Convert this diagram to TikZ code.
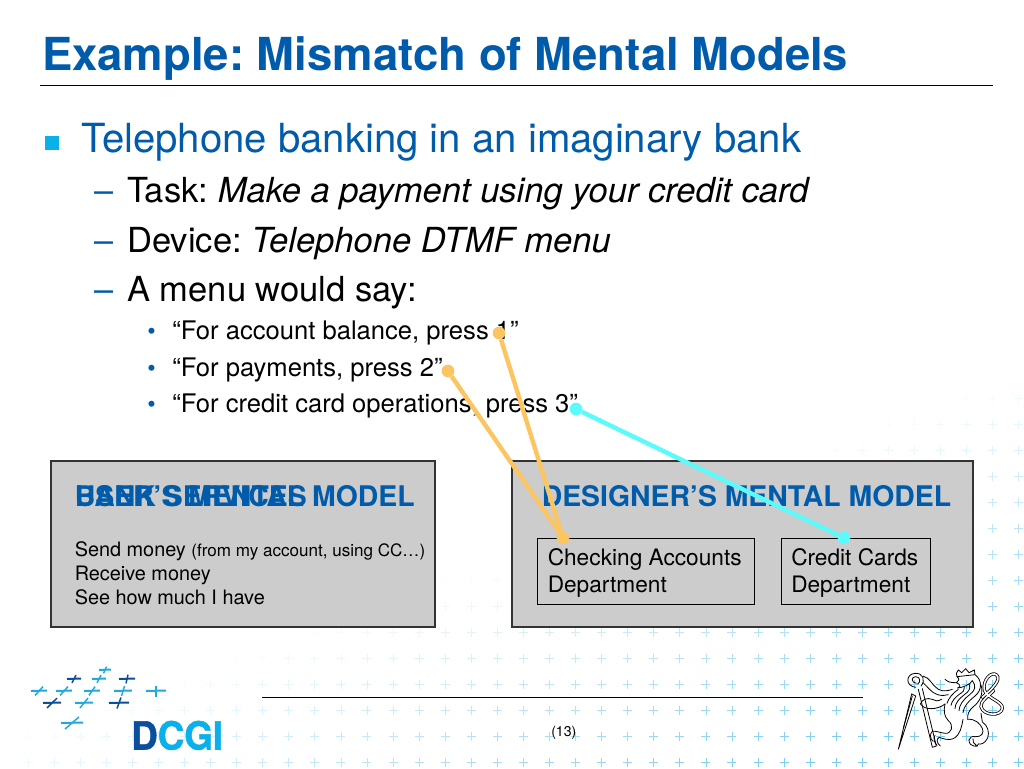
\documentclass[tikz,border=0pt]{standalone}
\usepackage{fontspec}
\setmainfont{TeX Gyre Heros}
\newfontfamily\logofont[BoldFeatures={FakeBold=1.4}]{TeX Gyre Heros}
\usetikzlibrary{positioning}
\definecolor{headblue}{HTML}{005BAA}
\definecolor{bulletblue}{HTML}{0BB0EA}
\definecolor{darkblue}{HTML}{0A4F9E}
\definecolor{midblue}{HTML}{1FA9DC}
\definecolor{plusblue}{HTML}{7CCBEE}
\definecolor{boxgray}{HTML}{CCCCCC}
\definecolor{boxedge}{HTML}{333333}
\definecolor{linkorange}{HTML}{FBC661}
\definecolor{linkcyan}{HTML}{5BFBFB}
\newcommand{\fs}[1]{\fontsize{#1}{#1}\selectfont}
\frenchspacing

\begin{document}
\begin{tikzpicture}[
  x=0.75pt, y=-0.75pt,
  txt/.style={anchor=base west, inner sep=0pt, text=black},
  titletxt/.style={txt, font=\fs{34.1}\bfseries, text=headblue},
  lvlone/.style={txt, font=\fs{30.1}, text=headblue},
  lvltwo/.style={txt, font=\fs{25.9}},
  lvlthree/.style={txt, font=\fs{19.2}},
  dashmark/.style={txt, font=\fs{25.6}, text=headblue},
  dotmark/.style={txt, font=\fs{18}, text=headblue},
  modelhead/.style={txt, font=\fs{21.3}\bfseries, text=headblue},
  boxtxt/.style={txt, font=\fs{14.9}},
  depttxt/.style={txt, font=\fs{17}},
  rulerline/.style={line width=1.1pt, draw=black},
  modelbox/.style={draw=boxedge, line width=1.1pt, fill=boxgray},
  deptbox/.style={draw=black, line width=0.65pt, fill=boxgray},
  orangedot/.style={circle, fill=linkorange, inner sep=0pt, minimum size=9.5pt},
  cyandot/.style={circle, fill=linkcyan, inner sep=0pt, minimum size=9.5pt},
  orangelink/.style={draw=linkorange, line width=3.3pt},
  cyanlink/.style={draw=linkcyan, line width=3.3pt},
  lionline/.style={draw=black, line width=0.6pt, line cap=round},
]
\useasboundingbox (0,0) rectangle (1024,768);
\fill[white] (0,0) rectangle (1024,768);

% background marks
\foreach \i in {0,...,38} {
  \foreach \j in {0,...,14} {
    \pgfmathsetmacro{\px}{1018.7-26.07*\i}
    \pgfmathsetmacro{\py}{762-26*\j}
    \pgfmathsetmacro{\op}{min(100,max(0,(\py-375+0.36*(\px-990))/3.2))}
    \ifdim\op pt>1pt
      \draw[draw=plusblue!\op!white, line width=0.5pt] (\px-4.5,\py) -- (\px+4.5,\py) (\px,\py-4.5) -- (\px,\py+4.5);
    \fi
  }
}

% heading
\node[titletxt] (title) at (42,70) {Example: Mismatch of Mental Models};
\draw[rulerline] (40,85.5) -- (993,85.5);

% bullets
\fill[bulletblue] (45,136) rectangle (59,150);
\node[lvlone] (bank) at (81,152) {Telephone banking in an imaginary bank};
\node[dashmark] (dasha) at (94,202) {–};
\node[lvltwo] (task) at (127,202) {Task: \textit{Make a payment using your credit card}};
\node[dashmark] (dashb) at (94,252) {–};
\node[lvltwo] (device) at (127,252) {Device: \textit{Telephone DTMF menu}};
\node[dashmark] (dashc) at (94,301) {–};
\node[lvltwo] (menu) at (127,301) {A menu would say:};
\node[dotmark] (dota) at (147,339) {•};
\node[lvlthree] (pressa) at (172,339) {“For account balance, press 1”};
\node[dotmark] (dotb) at (147,376) {•};
\node[lvlthree] (pressb) at (172,376) {“For payments, press 2”};
\node[dotmark] (dotc) at (147,412) {•};
\node[lvlthree] (pressc) at (172,412.5) {“For credit card operations, press 3”};

% left model
\draw[modelbox] (51,461) rectangle (435,627);
\node[modelhead] (usermodel) at (74.5,506) {USER’S MENTAL MODEL};
\node[modelhead] (services) at (74.5,506) {BANK SERVICES};
\node[boxtxt] (send) at (74.5,556) {Send money {\fs{12.8}(from my account, using CC…)}};
\node[boxtxt] (receive) at (74.5,580) {Receive money};
\node[boxtxt] (see) at (74.5,604) {See how much I have};

% right model
\draw[modelbox] (512,461) rectangle (973,627);
\node[modelhead] (designer) at (541.5,506) {DESIGNER’S MENTAL MODEL};
\draw[deptbox] (537,538) rectangle (754,604);
\draw[deptbox] (781,538) rectangle (930,604);
\node[depttxt] (checking) at (547.5,565) {Checking Accounts};
\node[depttxt] (checkdept) at (547.5,592.5) {Department};
\node[depttxt] (credit) at (791,565) {Credit Cards};
\node[depttxt] (creditdept) at (791,592.5) {Department};

% links
\node[orangedot] (one) at (499,333) {};
\node[orangedot] (two) at (448,371) {};
\node[cyandot] (three) at (576,409) {};
\node[orangedot] (chk) at (563,538) {};
\node[cyandot] (cc) at (844,538) {};
\draw[orangelink] (one) -- (chk);
\draw[orangelink] (two) -- (chk);
\draw[cyanlink] (three) -- (cc);

% footer
\draw[rulerline] (262,697.5) -- (863,697.5);
\node[txt, font=\fs{10.6}] (page) at (551,736) {(13)};

% logo crosses
\foreach \cx/\cy/\cw/\cs/\cc in {
  105/670/6/1.5/midblue,
  74/679/7/2/darkblue, 99/679/7/2/midblue, 127/679/8/1/darkblue,
  39/691/8/4/midblue, 64/691/8/4/midblue, 92/691/8/3/midblue, 123/691/9/1.5/midblue, 156/691/10/0/midblue,
  52/703/9/5/darkblue, 84/703/9/4/midblue, 119/703/10/2/darkblue,
  72/723/11/7/midblue} {
  \draw[draw=\cc, line width=1.5pt] (\cx-\cw,\cy) -- (\cx+\cw,\cy-0.5);
  \draw[draw=\cc, line width=1.1pt] (\cx-\cs,\cy+0.55*\cw) -- (\cx+\cs,\cy-0.55*\cw);
}
\node[txt, font=\logofont\fs{29}\bfseries] (dcgi) at (131,749.5) {\scalebox{0.95}[1]{\textcolor{darkblue}{D}\textcolor{bulletblue}{CGI}}};

% lion, in its own small grid
\begin{scope}[shift={(895,660)}, x=0.25pt, y=-0.25pt]
  % sword
  \draw[lionline] (10,268) -- (50,102) -- (62,108) -- cycle;
  \draw[lionline] (25,205) -- (52,108);
  % staff
  \draw[lionline] (70,88) -- (112,262) (82,86) -- (124,258) (112,262) -- (124,258);
  % fist and loop
  \draw[lionline] (62,82) .. controls (30,78) and (32,42) .. (60,40) .. controls (85,38) and (92,62) .. (78,78);
  \draw[lionline] (64,70) .. controls (48,68) and (48,50) .. (62,50) .. controls (76,50) and (78,66) .. (68,72);
  % upper arm
  \draw[lionline] (84,48) .. controls (105,52) and (112,78) .. (130,88) .. controls (145,96) and (160,92) .. (172,88);
  \draw[lionline] (84,68) .. controls (98,80) and (108,98) .. (128,104) .. controls (142,108) and (150,106) .. (160,104);
  % lower arm
  \draw[lionline] (112,118) .. controls (95,112) and (82,118) .. (76,132) .. controls (84,142) and (94,146) .. (108,146) .. controls (125,146) and (140,140) .. (150,132);
  \draw[lionline] (112,118) .. controls (120,124) and (128,124) .. (140,118);
  % crown and face
  \draw[lionline] (184,40) -- (190,30) -- (200,38) -- (212,26) -- (222,38) -- (238,30) -- (240,44) -- (186,50) -- cycle;
  \draw[lionline] (186,50) .. controls (196,56) and (190,66) .. (184,68) .. controls (194,72) and (200,80) .. (188,84);
  \draw[lionline] (150,58) .. controls (160,68) and (172,68) .. (184,68);
  \draw[lionline] (188,84) .. controls (205,82) and (225,74) .. (232,62);
  % mane
  \draw[lionline] (240,44) .. controls (262,60) and (262,90) .. (240,108) .. controls (222,122) and (205,140) .. (204,158);
  \draw[lionline] (232,62) .. controls (245,78) and (240,92) .. (224,104) .. controls (205,118) and (192,136) .. (192,152);
  \draw[lionline] (222,72) .. controls (228,85) and (222,94) .. (208,104) .. controls (192,116) and (180,130) .. (180,146);
  \draw[lionline] (208,82) .. controls (210,90) and (204,96) .. (194,102) .. controls (180,112) and (170,124) .. (168,136);
  \draw[lionline] (190,88) .. controls (175,98) and (160,115) .. (156,130);
  \draw[lionline] (258,75) .. controls (266,100) and (255,125) .. (235,140) .. controls (222,150) and (216,165) .. (218,178);
  % body and hind legs
  \draw[lionline] (150,132) .. controls (146,150) and (146,168) .. (160,182) .. controls (178,196) and (170,222) .. (150,220) .. controls (135,218) and (122,212) .. (112,214);
  \draw[lionline] (204,178) .. controls (200,200) and (196,225) .. (175,236) .. controls (160,242) and (145,236) .. (132,232);
  \draw[lionline] (112,214) .. controls (104,222) and (104,234) .. (114,244) (132,232) .. controls (124,238) and (124,248) .. (136,258) (120,226) .. controls (114,236) and (118,248) .. (126,256);
  \draw[lionline] (218,178) .. controls (240,176) and (255,190) .. (262,205) .. controls (268,218) and (260,232) .. (240,230) .. controls (230,228) and (224,232) .. (222,240);
  \draw[lionline] (258,160) -- (262,186) .. controls (278,196) and (284,216) .. (278,234) .. controls (270,250) and (258,254) .. (250,252);
  \draw[lionline] (222,240) .. controls (222,250) and (228,258) .. (236,258) .. controls (244,262) and (250,258) .. (250,252) (234,236) .. controls (232,244) and (236,252) .. (244,256);
  % tail, a figure of eight
  \draw[lionline, double=white, double distance=1.2pt] (262,112) .. controls (290,88) and (320,60) .. (305,45) .. controls (290,32) and (262,60) .. (268,90) .. controls (275,115) and (325,125) .. (322,145) .. controls (318,170) and (265,168) .. (258,140) .. controls (255,125) and (280,108) .. (296,92);
\end{scope}
\end{tikzpicture}
\end{document}
